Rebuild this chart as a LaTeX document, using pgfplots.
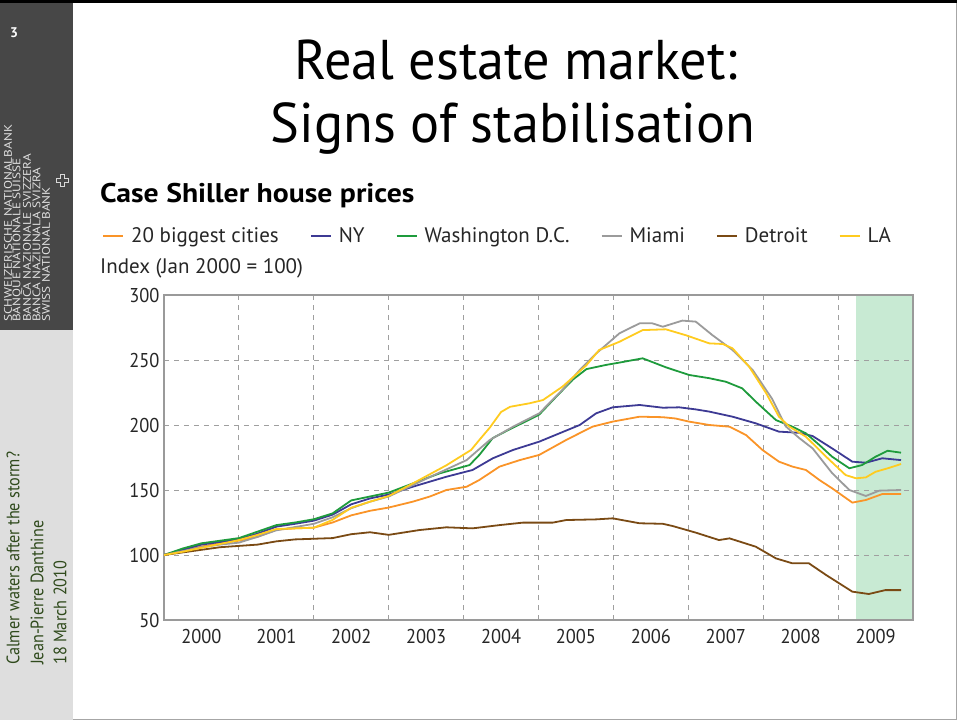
\documentclass[border=0pt]{standalone}
\usepackage{fontspec}
\setmainfont{PT Sans}
\newfontfamily\titlefont{PT Sans}[FakeStretch=0.97]
\newfontfamily\sidefont{PT Sans}[FakeStretch=0.9]
\newfontfamily\smallcapsfont{PT Sans}[FakeStretch=1.2]
\newfontfamily\tickfont{PT Sans}[FakeStretch=0.92]
\newfontfamily\charttitlefont{PT Sans}[FakeStretch=1.1]
\usepackage{pgfplots}
\pgfplotsset{compat=1.18}
\definecolor{cOrange}{HTML}{FA9428}
\definecolor{cBlue}{HTML}{3D3A94}
\definecolor{cGreen}{HTML}{1E9B3C}
\definecolor{cGray}{HTML}{9B9B9B}
\definecolor{cBrown}{HTML}{7A4A14}
\definecolor{cYellow}{HTML}{FFCB1F}
\definecolor{sideDark}{HTML}{474747}
\definecolor{sideLight}{HTML}{DEDEDE}
\definecolor{sideGreen}{HTML}{2F4A1C}
\definecolor{shade}{HTML}{C8EAD3}
\definecolor{axisGray}{HTML}{9A9A9A}

\pgfplotstableread{
x y
2000.00 100
2000.25 103
2000.50 106.5
2000.75 109
2001.00 111
2001.25 114
2001.50 119.5
2001.75 120.5
2002.00 121
2002.25 125
2002.50 130.5
2002.75 134
2003.00 136.5
2003.32 141
2003.55 145
2003.77 150
2004.04 152.5
2004.21 157.7
2004.48 168
2004.75 173
2005.01 177
2005.37 188.5
2005.72 198.7
2005.99 202.6
2006.35 206.4
2006.66 206
2006.83 205
2007.01 202.6
2007.28 200
2007.55 198.7
2007.77 192.3
2007.99 180.8
2008.21 171.8
2008.39 168
2008.57 165.4
2008.75 157.7
2008.92 151.3
2009.19 140.3
2009.37 142.3
2009.59 146.9
2009.84 146.9
}\tblcities

\pgfplotstableread{
x y
2000.00 100
2000.25 104
2000.50 108
2000.75 110
2001.00 112
2001.25 116.5
2001.50 121.8
2001.75 124
2002.00 126.4
2002.25 131
2002.50 139
2002.75 143.5
2003.00 146.5
2003.32 152.5
2003.77 160.2
2004.12 165.4
2004.39 174.4
2004.66 180.8
2005.01 187.2
2005.28 193.6
2005.55 200
2005.77 209
2005.99 213.6
2006.35 215.4
2006.66 213.3
2006.88 213.6
2007.10 212
2007.28 210.3
2007.59 206.4
2007.90 201.3
2008.21 194.9
2008.48 194
2008.66 191.5
2008.92 182
2009.19 171.8
2009.37 171
2009.59 174.4
2009.84 173
}\tblny

\pgfplotstableread{
x y
2000.00 100
2000.25 105
2000.50 109
2000.75 111
2001.00 113
2001.25 118
2001.50 123
2001.75 125
2002.00 127.5
2002.25 132
2002.50 142
2002.75 145
2003.00 148
2003.32 155
2003.68 162.8
2004.08 169.2
2004.21 177
2004.39 190
2004.66 198
2004.84 203
2005.01 208
2005.24 222
2005.46 235
2005.64 243
2005.90 246.2
2006.08 248
2006.39 251.3
2006.70 244.4
2007.01 238.5
2007.28 236
2007.50 233.3
2007.72 228.2
2007.90 218
2008.17 203.8
2008.39 198.7
2008.57 193.6
2008.75 184.6
2008.92 175.6
2009.15 166.7
2009.32 169.2
2009.50 175.6
2009.66 180.2
2009.84 178.7
}\tbldc

\pgfplotstableread{
x y
2000.00 100
2000.25 103
2000.50 106
2000.75 108
2001.00 109.5
2001.25 114
2001.50 119
2001.75 121.5
2002.00 124
2002.25 129
2002.50 136
2002.75 141
2003.00 145
2003.55 160
2004.04 173
2004.35 188.5
2004.66 198.7
2005.01 209
2005.32 227
2005.55 242.3
2005.77 255
2006.08 270.5
2006.35 278.2
2006.52 278.2
2006.66 275.6
2006.92 280.3
2007.10 279.5
2007.32 269.2
2007.59 257.7
2007.86 242.3
2008.12 220
2008.30 199
2008.48 190
2008.66 182
2008.92 163
2009.15 150
2009.37 145.4
2009.55 149.5
2009.84 150
}\tblmiami

\pgfplotstableread{
x y
2000.00 100
2000.25 102
2000.50 104
2000.75 106
2001.00 107
2001.25 108
2001.50 110.5
2001.75 112
2002.00 112.5
2002.25 113
2002.50 116
2002.75 117.5
2003.00 115.5
2003.41 119.2
2003.77 121.3
2004.12 120.5
2004.48 123
2004.79 124.9
2005.19 124.9
2005.37 126.9
2005.77 127.4
2005.99 128.2
2006.35 124.4
2006.66 124
2006.79 122.3
2007.10 117.2
2007.41 111.5
2007.55 112.8
2007.90 106.4
2008.17 97.4
2008.39 93.6
2008.61 93.6
2008.84 84.6
2009.19 71.8
2009.41 70
2009.63 73
2009.84 73
}\tbldetroit

\pgfplotstableread{
x y
2000.00 100
2000.25 102.5
2000.50 105.5
2000.75 108.5
2001.00 111.5
2001.25 115.5
2001.50 120
2001.75 120.5
2002.00 121
2002.25 127
2002.50 136.4
2002.75 141
2003.00 145.4
2003.32 155
2003.77 169
2004.10 180.8
2004.21 188.5
2004.35 198
2004.50 210
2004.62 214
2004.88 216.7
2005.06 219.2
2005.32 229.5
2005.64 246
2005.81 257.7
2006.08 264
2006.39 273
2006.70 273.6
2006.97 269
2007.28 262.8
2007.46 262.3
2007.59 259
2007.81 245
2008.04 224.4
2008.21 206.4
2008.35 198.7
2008.57 191
2008.84 175.6
2009.10 161.5
2009.24 159
2009.37 159.7
2009.50 164
2009.68 167
2009.84 170
}\tblla

\begin{document}
\begin{tikzpicture}[x=1pt,y=1pt]
\path (0,0) rectangle (957,720);
\fill[sideDark] (0,390) rectangle (73,720);
\fill[sideLight] (0,0) rectangle (73,390);
\fill[black] (0,717) rectangle (957,720);
\draw[gray!70, line width=1] (956,0) -- (956,717);
\draw[gray!70, line width=1] (73,0.5) -- (956,0.5);

\node[text=white, font=\bfseries\fontsize{14}{14}\selectfont] at (14,687) {3};
\begin{scope}[every node/.style={rotate=90, anchor=west, inner sep=0pt, text=white!88!black, font=\smallcapsfont\fontsize{11}{11}\selectfont}]
\node at (8,398) {SCHWEIZERISCHE NATIONALBANK};
\node at (17.5,398) {BANQUE NATIONALE SUISSE};
\node at (27,398) {BANCA NAZIONALE SVIZZERA};
\node at (36.5,398) {BANCA NAZIUNALA SVIZRA};
\node at (46,398) {SWISS NATIONAL BANK};
\end{scope}
\draw[white!85!black, line width=0.7] (60,534) -- (64,534) -- (64,538) -- (68,538) -- (68,542) -- (64,542) -- (64,546) -- (60,546) -- (60,542) -- (56,542) -- (56,538) -- (60,538) -- cycle;

\begin{scope}[every node/.style={rotate=90, anchor=west, inner sep=0pt, text=sideGreen, font=\sidefont\fontsize{18}{18}\selectfont}]
\node at (13,55) {Calmer waters after the storm?};
\node at (37,55) {Jean-Pierre Danthine};
\node at (60,55) {18 March 2010};
\end{scope}

\node[anchor=base, font=\titlefont\fontsize{56}{56}\selectfont] at (516,640) {Real estate market:};
\node[anchor=base, font=\titlefont\fontsize{56}{56}\selectfont] at (513,577) {Signs of stabilisation};

\node[anchor=base west, inner sep=0pt, font=\charttitlefont\bfseries\fontsize{27}{27}\selectfont] at (100,517) {Case Shiller house prices};
\node[anchor=base west, inner sep=0pt, font=\fontsize{21}{21}\selectfont, text=black!85] at (100,446) {Index (Jan 2000 = 100)};

\begin{axis}[
  at={(164pt,100pt)}, anchor=south west,
  width=749pt, height=325pt, scale only axis,
  set layers,
  xmin=2000, xmax=2010, ymin=50, ymax=300,
  xtick={2000.5,2001.5,2002.5,2003.5,2004.5,2005.5,2006.5,2007.5,2008.5,2009.5},
  xticklabels={2000,2001,2002,2003,2004,2005,2006,2007,2008,2009},
  minor xtick={2001,2002,2003,2004,2005,2006,2007,2008,2009},
  xminorgrids, ymajorgrids, xmajorgrids=false,
  ytick={50,100,150,200,250,300},
  major tick length=0pt, minor tick length=0pt,
  axis line style={draw=axisGray, line width=1.6pt},
  grid style={draw=gray!75, line width=0.9pt, dash pattern=on 5pt off 5pt},
  minor grid style={draw=gray!75, line width=0.9pt, dash pattern=on 5pt off 5pt},
  /pgf/number format/assume math mode=true,
  tick label style={font=\tickfont\fontsize{20}{20}\selectfont, text=black!85},
  yticklabel style={xshift=-1pt},
  xticklabel style={yshift=-6pt},
  legend columns=6,
  legend style={draw=none, fill=none, at={(-0.0828,1.1815)}, anchor=west, inner sep=0pt,
    font=\fontsize{21}{21}\selectfont, text=black!85,
    /tikz/every even column/.append style={column sep=29pt}},
  legend image code/.code={\draw[#1, line width=2pt] (0pt,0pt) -- (20pt,0pt);},
]
\addplot[draw=none, fill=shade, forget plot, on layer=axis background] coordinates {(2009.236,50) (2010,50) (2010,300) (2009.236,300)} -- cycle;
\addplot[cOrange, line width=1.8pt] table[x=x,y=y] {\tblcities};
\addlegendentry{\hspace{5pt}20 biggest cities}
\addplot[cBlue, line width=1.8pt] table[x=x,y=y] {\tblny};
\addlegendentry{\hspace{5pt}NY}
\addplot[cGreen, line width=1.8pt] table[x=x,y=y] {\tbldc};
\addlegendentry{\hspace{5pt}Washington D.C.}
\addplot[cGray, line width=1.8pt] table[x=x,y=y] {\tblmiami};
\addlegendentry{\hspace{5pt}Miami}
\addplot[cBrown, line width=1.8pt] table[x=x,y=y] {\tbldetroit};
\addlegendentry{\hspace{5pt}Detroit}
\addplot[cYellow, line width=1.8pt] table[x=x,y=y] {\tblla};
\addlegendentry{\hspace{5pt}LA}
\end{axis}
\end{tikzpicture}
\end{document}
